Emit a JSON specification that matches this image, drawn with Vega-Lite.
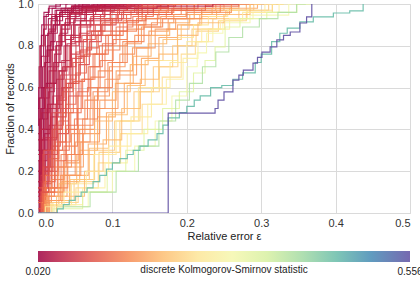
{
"$schema": "https://vega.github.io/schema/vega-lite/v6.json",
"width": 372, "height": 209,
"autosize": {"type": "none"},
"padding": {"left": 38, "top": 4, "right": 10, "bottom": 72},
"config": {"font": "Liberation Sans", "view": {"stroke": "#d8d8d8"},
  "axis": {"grid": true, "gridColor": "#dadada", "ticks": false, "domain": false, "labelColor": "#333", "titleColor": "#222", "labelFontSize": 11, "titleFontSize": 11, "titleFontWeight": "normal"}},
"data": {"values": [
{"s":1,"k":0.020,"x":0,"y":0.42},{"s":1,"k":0.020,"x":0.002,"y":0.6},{"s":1,"k":0.020,"x":0.004,"y":0.8},{"s":1,"k":0.020,"x":0.006,"y":0.9},{"s":1,"k":0.020,"x":0.01,"y":0.96},{"s":1,"k":0.020,"x":0.02,"y":0.99},{"s":1,"k":0.020,"x":0.04,"y":1},
{"s":2,"k":0.022,"x":0,"y":0.3},{"s":2,"k":0.022,"x":0.003,"y":0.55},{"s":2,"k":0.022,"x":0.006,"y":0.75},{"s":2,"k":0.022,"x":0.009,"y":0.88},{"s":2,"k":0.022,"x":0.013,"y":0.95},{"s":2,"k":0.022,"x":0.025,"y":0.98},{"s":2,"k":0.022,"x":0.05,"y":1},
{"s":3,"k":0.024,"x":0,"y":0.5},{"s":3,"k":0.024,"x":0.003,"y":0.7},{"s":3,"k":0.024,"x":0.006,"y":0.85},{"s":3,"k":0.024,"x":0.01,"y":0.94},{"s":3,"k":0.024,"x":0.018,"y":0.98},{"s":3,"k":0.024,"x":0.03,"y":1},
{"s":4,"k":0.025,"x":0,"y":0.2},{"s":4,"k":0.025,"x":0.004,"y":0.45},{"s":4,"k":0.025,"x":0.008,"y":0.7},{"s":4,"k":0.025,"x":0.012,"y":0.85},{"s":4,"k":0.025,"x":0.016,"y":0.93},{"s":4,"k":0.025,"x":0.03,"y":0.97},{"s":4,"k":0.025,"x":0.06,"y":0.99},{"s":4,"k":0.025,"x":0.09,"y":1},
{"s":5,"k":0.027,"x":0,"y":0},{"s":5,"k":0.027,"x":0.003,"y":0.25},{"s":5,"k":0.027,"x":0.007,"y":0.5},{"s":5,"k":0.027,"x":0.011,"y":0.72},{"s":5,"k":0.027,"x":0.015,"y":0.86},{"s":5,"k":0.027,"x":0.022,"y":0.94},{"s":5,"k":0.027,"x":0.04,"y":0.98},{"s":5,"k":0.027,"x":0.07,"y":1},
{"s":6,"k":0.028,"x":0,"y":0.1},{"s":6,"k":0.028,"x":0.005,"y":0.35},{"s":6,"k":0.028,"x":0.01,"y":0.6},{"s":6,"k":0.028,"x":0.015,"y":0.8},{"s":6,"k":0.028,"x":0.02,"y":0.92},{"s":6,"k":0.028,"x":0.03,"y":0.97},{"s":6,"k":0.028,"x":0.07,"y":1},
{"s":7,"k":0.030,"x":0,"y":0.05},{"s":7,"k":0.030,"x":0.006,"y":0.3},{"s":7,"k":0.030,"x":0.012,"y":0.55},{"s":7,"k":0.030,"x":0.018,"y":0.78},{"s":7,"k":0.030,"x":0.024,"y":0.9},{"s":7,"k":0.030,"x":0.035,"y":0.96},{"s":7,"k":0.030,"x":0.06,"y":0.985},{"s":7,"k":0.030,"x":0.1,"y":1},
{"s":8,"k":0.032,"x":0,"y":0.15},{"s":8,"k":0.032,"x":0.008,"y":0.4},{"s":8,"k":0.032,"x":0.014,"y":0.62},{"s":8,"k":0.032,"x":0.02,"y":0.82},{"s":8,"k":0.032,"x":0.026,"y":0.92},{"s":8,"k":0.032,"x":0.04,"y":0.97},{"s":8,"k":0.032,"x":0.08,"y":1},
{"s":9,"k":0.033,"x":0,"y":0.38},{"s":9,"k":0.033,"x":0.008,"y":0.6},{"s":9,"k":0.033,"x":0.016,"y":0.78},{"s":9,"k":0.033,"x":0.024,"y":0.9},{"s":9,"k":0.033,"x":0.034,"y":0.96},{"s":9,"k":0.033,"x":0.06,"y":0.99},{"s":9,"k":0.033,"x":0.12,"y":1},
{"s":10,"k":0.035,"x":0,"y":0},{"s":10,"k":0.035,"x":0.004,"y":0.2},{"s":10,"k":0.035,"x":0.01,"y":0.45},{"s":10,"k":0.035,"x":0.016,"y":0.7},{"s":10,"k":0.035,"x":0.022,"y":0.86},{"s":10,"k":0.035,"x":0.03,"y":0.94},{"s":10,"k":0.035,"x":0.05,"y":0.98},{"s":10,"k":0.035,"x":0.12,"y":1},
{"s":11,"k":0.036,"x":0,"y":0},{"s":11,"k":0.036,"x":0.007,"y":0.18},{"s":11,"k":0.036,"x":0.014,"y":0.4},{"s":11,"k":0.036,"x":0.021,"y":0.62},{"s":11,"k":0.036,"x":0.028,"y":0.8},{"s":11,"k":0.036,"x":0.036,"y":0.9},{"s":11,"k":0.036,"x":0.048,"y":0.96},{"s":11,"k":0.036,"x":0.07,"y":0.985},{"s":11,"k":0.036,"x":0.11,"y":1},
{"s":12,"k":0.038,"x":0,"y":0.25},{"s":12,"k":0.038,"x":0.007,"y":0.5},{"s":12,"k":0.038,"x":0.013,"y":0.72},{"s":12,"k":0.038,"x":0.019,"y":0.87},{"s":12,"k":0.038,"x":0.028,"y":0.95},{"s":12,"k":0.038,"x":0.045,"y":0.98},{"s":12,"k":0.038,"x":0.1,"y":1},
{"s":13,"k":0.040,"x":0,"y":0},{"s":13,"k":0.040,"x":0.006,"y":0.15},{"s":13,"k":0.040,"x":0.012,"y":0.38},{"s":13,"k":0.040,"x":0.02,"y":0.62},{"s":13,"k":0.040,"x":0.028,"y":0.8},{"s":13,"k":0.040,"x":0.036,"y":0.9},{"s":13,"k":0.040,"x":0.05,"y":0.96},{"s":13,"k":0.040,"x":0.08,"y":0.99},{"s":13,"k":0.040,"x":0.14,"y":1},
{"s":14,"k":0.041,"x":0,"y":0.1},{"s":14,"k":0.041,"x":0.009,"y":0.3},{"s":14,"k":0.041,"x":0.017,"y":0.52},{"s":14,"k":0.041,"x":0.025,"y":0.72},{"s":14,"k":0.041,"x":0.034,"y":0.86},{"s":14,"k":0.041,"x":0.046,"y":0.94},{"s":14,"k":0.041,"x":0.065,"y":0.975},{"s":14,"k":0.041,"x":0.1,"y":0.99},{"s":14,"k":0.041,"x":0.18,"y":1},
{"s":15,"k":0.042,"x":0,"y":0.35},{"s":15,"k":0.042,"x":0.005,"y":0.55},{"s":15,"k":0.042,"x":0.011,"y":0.75},{"s":15,"k":0.042,"x":0.018,"y":0.88},{"s":15,"k":0.042,"x":0.03,"y":0.95},{"s":15,"k":0.042,"x":0.06,"y":0.99},{"s":15,"k":0.042,"x":0.11,"y":1},
{"s":16,"k":0.044,"x":0,"y":0},{"s":16,"k":0.044,"x":0.012,"y":0.22},{"s":16,"k":0.044,"x":0.022,"y":0.46},{"s":16,"k":0.044,"x":0.032,"y":0.68},{"s":16,"k":0.044,"x":0.042,"y":0.83},{"s":16,"k":0.044,"x":0.054,"y":0.92},{"s":16,"k":0.044,"x":0.072,"y":0.965},{"s":16,"k":0.044,"x":0.1,"y":0.985},{"s":16,"k":0.044,"x":0.15,"y":1},
{"s":17,"k":0.045,"x":0,"y":0.05},{"s":17,"k":0.045,"x":0.008,"y":0.25},{"s":17,"k":0.045,"x":0.016,"y":0.5},{"s":17,"k":0.045,"x":0.024,"y":0.7},{"s":17,"k":0.045,"x":0.032,"y":0.85},{"s":17,"k":0.045,"x":0.042,"y":0.93},{"s":17,"k":0.045,"x":0.06,"y":0.97},{"s":17,"k":0.045,"x":0.1,"y":0.99},{"s":17,"k":0.045,"x":0.16,"y":1},
{"s":18,"k":0.047,"x":0,"y":0.28},{"s":18,"k":0.047,"x":0.01,"y":0.48},{"s":18,"k":0.047,"x":0.02,"y":0.68},{"s":18,"k":0.047,"x":0.03,"y":0.82},{"s":18,"k":0.047,"x":0.042,"y":0.91},{"s":18,"k":0.047,"x":0.058,"y":0.96},{"s":18,"k":0.047,"x":0.09,"y":0.99},{"s":18,"k":0.047,"x":0.14,"y":1},
{"s":19,"k":0.048,"x":0,"y":0.12},{"s":19,"k":0.048,"x":0.01,"y":0.35},{"s":19,"k":0.048,"x":0.018,"y":0.58},{"s":19,"k":0.048,"x":0.026,"y":0.76},{"s":19,"k":0.048,"x":0.036,"y":0.88},{"s":19,"k":0.048,"x":0.05,"y":0.95},{"s":19,"k":0.048,"x":0.08,"y":0.985},{"s":19,"k":0.048,"x":0.13,"y":1},
{"s":20,"k":0.050,"x":0,"y":0},{"s":20,"k":0.050,"x":0.01,"y":0.2},{"s":20,"k":0.050,"x":0.02,"y":0.42},{"s":20,"k":0.050,"x":0.03,"y":0.64},{"s":20,"k":0.050,"x":0.04,"y":0.8},{"s":20,"k":0.050,"x":0.05,"y":0.9},{"s":20,"k":0.050,"x":0.065,"y":0.95},{"s":20,"k":0.050,"x":0.09,"y":0.98},{"s":20,"k":0.050,"x":0.15,"y":1},
{"s":21,"k":0.052,"x":0,"y":0},{"s":21,"k":0.052,"x":0.005,"y":0.1},{"s":21,"k":0.052,"x":0.014,"y":0.28},{"s":21,"k":0.052,"x":0.024,"y":0.5},{"s":21,"k":0.052,"x":0.034,"y":0.68},{"s":21,"k":0.052,"x":0.044,"y":0.81},{"s":21,"k":0.052,"x":0.056,"y":0.9},{"s":21,"k":0.052,"x":0.074,"y":0.95},{"s":21,"k":0.052,"x":0.1,"y":0.98},{"s":21,"k":0.052,"x":0.17,"y":1},
{"s":22,"k":0.053,"x":0,"y":0.08},{"s":22,"k":0.053,"x":0.012,"y":0.3},{"s":22,"k":0.053,"x":0.022,"y":0.52},{"s":22,"k":0.053,"x":0.032,"y":0.72},{"s":22,"k":0.053,"x":0.042,"y":0.85},{"s":22,"k":0.053,"x":0.055,"y":0.93},{"s":22,"k":0.053,"x":0.075,"y":0.97},{"s":22,"k":0.053,"x":0.12,"y":1},
{"s":23,"k":0.055,"x":0,"y":0.15},{"s":23,"k":0.055,"x":0.014,"y":0.36},{"s":23,"k":0.055,"x":0.026,"y":0.56},{"s":23,"k":0.055,"x":0.038,"y":0.73},{"s":23,"k":0.055,"x":0.05,"y":0.85},{"s":23,"k":0.055,"x":0.064,"y":0.92},{"s":23,"k":0.055,"x":0.085,"y":0.965},{"s":23,"k":0.055,"x":0.12,"y":0.99},{"s":23,"k":0.055,"x":0.16,"y":1},
{"s":24,"k":0.056,"x":0,"y":0.2},{"s":24,"k":0.056,"x":0.006,"y":0.4},{"s":24,"k":0.056,"x":0.014,"y":0.6},{"s":24,"k":0.056,"x":0.024,"y":0.78},{"s":24,"k":0.056,"x":0.036,"y":0.9},{"s":24,"k":0.056,"x":0.05,"y":0.955},{"s":24,"k":0.056,"x":0.07,"y":0.98},{"s":24,"k":0.056,"x":0.1,"y":1},
{"s":25,"k":0.058,"x":0,"y":0},{"s":25,"k":0.058,"x":0.008,"y":0.12},{"s":25,"k":0.058,"x":0.018,"y":0.3},{"s":25,"k":0.058,"x":0.028,"y":0.52},{"s":25,"k":0.058,"x":0.038,"y":0.7},{"s":25,"k":0.058,"x":0.05,"y":0.84},{"s":25,"k":0.058,"x":0.064,"y":0.92},{"s":25,"k":0.058,"x":0.085,"y":0.97},{"s":25,"k":0.058,"x":0.13,"y":1},
{"s":26,"k":0.065,"x":0,"y":0},{"s":26,"k":0.065,"x":0.01,"y":0.15},{"s":26,"k":0.065,"x":0.02,"y":0.35},{"s":26,"k":0.065,"x":0.03,"y":0.55},{"s":26,"k":0.065,"x":0.04,"y":0.7},{"s":26,"k":0.065,"x":0.05,"y":0.82},{"s":26,"k":0.065,"x":0.065,"y":0.9},{"s":26,"k":0.065,"x":0.085,"y":0.95},{"s":26,"k":0.065,"x":0.11,"y":0.98},{"s":26,"k":0.065,"x":0.16,"y":1},
{"s":27,"k":0.068,"x":0,"y":0},{"s":27,"k":0.068,"x":0.014,"y":0.2},{"s":27,"k":0.068,"x":0.026,"y":0.4},{"s":27,"k":0.068,"x":0.038,"y":0.6},{"s":27,"k":0.068,"x":0.05,"y":0.76},{"s":27,"k":0.068,"x":0.062,"y":0.86},{"s":27,"k":0.068,"x":0.078,"y":0.93},{"s":27,"k":0.068,"x":0.1,"y":0.97},{"s":27,"k":0.068,"x":0.14,"y":0.99},{"s":27,"k":0.068,"x":0.19,"y":1},
{"s":28,"k":0.072,"x":0,"y":0.06},{"s":28,"k":0.072,"x":0.008,"y":0.18},{"s":28,"k":0.072,"x":0.02,"y":0.36},{"s":28,"k":0.072,"x":0.032,"y":0.54},{"s":28,"k":0.072,"x":0.044,"y":0.7},{"s":28,"k":0.072,"x":0.058,"y":0.82},{"s":28,"k":0.072,"x":0.074,"y":0.9},{"s":28,"k":0.072,"x":0.094,"y":0.95},{"s":28,"k":0.072,"x":0.125,"y":0.98},{"s":28,"k":0.072,"x":0.17,"y":1},
{"s":29,"k":0.075,"x":0,"y":0.1},{"s":29,"k":0.075,"x":0.012,"y":0.28},{"s":29,"k":0.075,"x":0.024,"y":0.48},{"s":29,"k":0.075,"x":0.036,"y":0.66},{"s":29,"k":0.075,"x":0.048,"y":0.8},{"s":29,"k":0.075,"x":0.062,"y":0.89},{"s":29,"k":0.075,"x":0.08,"y":0.94},{"s":29,"k":0.075,"x":0.1,"y":0.97},{"s":29,"k":0.075,"x":0.14,"y":1},
{"s":30,"k":0.080,"x":0,"y":0},{"s":30,"k":0.080,"x":0.02,"y":0.2},{"s":30,"k":0.080,"x":0.034,"y":0.38},{"s":30,"k":0.080,"x":0.048,"y":0.56},{"s":30,"k":0.080,"x":0.062,"y":0.71},{"s":30,"k":0.080,"x":0.076,"y":0.82},{"s":30,"k":0.080,"x":0.094,"y":0.9},{"s":30,"k":0.080,"x":0.116,"y":0.95},{"s":30,"k":0.080,"x":0.15,"y":0.98},{"s":30,"k":0.080,"x":0.2,"y":1},
{"s":31,"k":0.085,"x":0,"y":0},{"s":31,"k":0.085,"x":0.006,"y":0.08},{"s":31,"k":0.085,"x":0.016,"y":0.22},{"s":31,"k":0.085,"x":0.028,"y":0.42},{"s":31,"k":0.085,"x":0.04,"y":0.6},{"s":31,"k":0.085,"x":0.052,"y":0.74},{"s":31,"k":0.085,"x":0.066,"y":0.85},{"s":31,"k":0.085,"x":0.084,"y":0.92},{"s":31,"k":0.085,"x":0.11,"y":0.96},{"s":31,"k":0.085,"x":0.15,"y":0.985},{"s":31,"k":0.085,"x":0.2,"y":1},
{"s":32,"k":0.090,"x":0,"y":0},{"s":32,"k":0.090,"x":0.012,"y":0.14},{"s":32,"k":0.090,"x":0.024,"y":0.32},{"s":32,"k":0.090,"x":0.036,"y":0.5},{"s":32,"k":0.090,"x":0.05,"y":0.66},{"s":32,"k":0.090,"x":0.064,"y":0.78},{"s":32,"k":0.090,"x":0.08,"y":0.87},{"s":32,"k":0.090,"x":0.1,"y":0.93},{"s":32,"k":0.090,"x":0.13,"y":0.97},{"s":32,"k":0.090,"x":0.18,"y":1},
{"s":33,"k":0.095,"x":0,"y":0.05},{"s":33,"k":0.095,"x":0.014,"y":0.22},{"s":33,"k":0.095,"x":0.026,"y":0.4},{"s":33,"k":0.095,"x":0.04,"y":0.58},{"s":33,"k":0.095,"x":0.054,"y":0.72},{"s":33,"k":0.095,"x":0.068,"y":0.83},{"s":33,"k":0.095,"x":0.086,"y":0.9},{"s":33,"k":0.095,"x":0.11,"y":0.95},{"s":33,"k":0.095,"x":0.17,"y":1},
{"s":34,"k":0.100,"x":0,"y":0.12},{"s":34,"k":0.100,"x":0.016,"y":0.3},{"s":34,"k":0.100,"x":0.03,"y":0.48},{"s":34,"k":0.100,"x":0.044,"y":0.64},{"s":34,"k":0.100,"x":0.058,"y":0.77},{"s":34,"k":0.100,"x":0.074,"y":0.87},{"s":34,"k":0.100,"x":0.094,"y":0.93},{"s":34,"k":0.100,"x":0.12,"y":0.97},{"s":34,"k":0.100,"x":0.16,"y":0.99},{"s":34,"k":0.100,"x":0.21,"y":1},
{"s":35,"k":0.105,"x":0,"y":0},{"s":35,"k":0.105,"x":0.01,"y":0.1},{"s":35,"k":0.105,"x":0.022,"y":0.26},{"s":35,"k":0.105,"x":0.034,"y":0.44},{"s":35,"k":0.105,"x":0.048,"y":0.62},{"s":35,"k":0.105,"x":0.062,"y":0.75},{"s":35,"k":0.105,"x":0.078,"y":0.85},{"s":35,"k":0.105,"x":0.096,"y":0.91},{"s":35,"k":0.105,"x":0.12,"y":0.95},{"s":35,"k":0.105,"x":0.15,"y":0.98},{"s":35,"k":0.105,"x":0.2,"y":1},
{"s":36,"k":0.110,"x":0,"y":0},{"s":36,"k":0.110,"x":0.016,"y":0.15},{"s":36,"k":0.110,"x":0.03,"y":0.34},{"s":36,"k":0.110,"x":0.044,"y":0.52},{"s":36,"k":0.110,"x":0.058,"y":0.67},{"s":36,"k":0.110,"x":0.072,"y":0.79},{"s":36,"k":0.110,"x":0.09,"y":0.87},{"s":36,"k":0.110,"x":0.11,"y":0.93},{"s":36,"k":0.110,"x":0.14,"y":0.97},{"s":36,"k":0.110,"x":0.19,"y":1},
{"s":37,"k":0.115,"x":0,"y":0.02},{"s":37,"k":0.115,"x":0.012,"y":0.12},{"s":37,"k":0.115,"x":0.026,"y":0.3},{"s":37,"k":0.115,"x":0.04,"y":0.48},{"s":37,"k":0.115,"x":0.055,"y":0.63},{"s":37,"k":0.115,"x":0.07,"y":0.76},{"s":37,"k":0.115,"x":0.088,"y":0.85},{"s":37,"k":0.115,"x":0.108,"y":0.91},{"s":37,"k":0.115,"x":0.13,"y":0.95},{"s":37,"k":0.115,"x":0.165,"y":0.98},{"s":37,"k":0.115,"x":0.22,"y":1},
{"s":38,"k":0.120,"x":0,"y":0},{"s":38,"k":0.120,"x":0.018,"y":0.12},{"s":38,"k":0.120,"x":0.034,"y":0.3},{"s":38,"k":0.120,"x":0.05,"y":0.48},{"s":38,"k":0.120,"x":0.066,"y":0.64},{"s":38,"k":0.120,"x":0.082,"y":0.76},{"s":38,"k":0.120,"x":0.1,"y":0.85},{"s":38,"k":0.120,"x":0.12,"y":0.91},{"s":38,"k":0.120,"x":0.15,"y":0.96},{"s":38,"k":0.120,"x":0.2,"y":1},
{"s":39,"k":0.125,"x":0,"y":0},{"s":39,"k":0.125,"x":0.014,"y":0.08},{"s":39,"k":0.125,"x":0.03,"y":0.22},{"s":39,"k":0.125,"x":0.046,"y":0.4},{"s":39,"k":0.125,"x":0.062,"y":0.56},{"s":39,"k":0.125,"x":0.078,"y":0.7},{"s":39,"k":0.125,"x":0.095,"y":0.81},{"s":39,"k":0.125,"x":0.115,"y":0.89},{"s":39,"k":0.125,"x":0.14,"y":0.94},{"s":39,"k":0.125,"x":0.17,"y":0.97},{"s":39,"k":0.125,"x":0.23,"y":1},
{"s":40,"k":0.130,"x":0,"y":0.05},{"s":40,"k":0.130,"x":0.02,"y":0.18},{"s":40,"k":0.130,"x":0.036,"y":0.34},{"s":40,"k":0.130,"x":0.052,"y":0.5},{"s":40,"k":0.130,"x":0.068,"y":0.64},{"s":40,"k":0.130,"x":0.085,"y":0.76},{"s":40,"k":0.130,"x":0.104,"y":0.85},{"s":40,"k":0.130,"x":0.125,"y":0.92},{"s":40,"k":0.130,"x":0.155,"y":0.96},{"s":40,"k":0.130,"x":0.21,"y":1},
{"s":41,"k":0.135,"x":0,"y":0},{"s":41,"k":0.135,"x":0.022,"y":0.12},{"s":41,"k":0.135,"x":0.04,"y":0.28},{"s":41,"k":0.135,"x":0.058,"y":0.45},{"s":41,"k":0.135,"x":0.075,"y":0.6},{"s":41,"k":0.135,"x":0.092,"y":0.73},{"s":41,"k":0.135,"x":0.11,"y":0.83},{"s":41,"k":0.135,"x":0.13,"y":0.9},{"s":41,"k":0.135,"x":0.16,"y":0.95},{"s":41,"k":0.135,"x":0.2,"y":0.98},{"s":41,"k":0.135,"x":0.25,"y":1},
{"s":42,"k":0.140,"x":0,"y":0},{"s":42,"k":0.140,"x":0.01,"y":0.05},{"s":42,"k":0.140,"x":0.026,"y":0.16},{"s":42,"k":0.140,"x":0.044,"y":0.32},{"s":42,"k":0.140,"x":0.062,"y":0.5},{"s":42,"k":0.140,"x":0.08,"y":0.65},{"s":42,"k":0.140,"x":0.1,"y":0.78},{"s":42,"k":0.140,"x":0.12,"y":0.87},{"s":42,"k":0.140,"x":0.145,"y":0.93},{"s":42,"k":0.140,"x":0.18,"y":0.97},{"s":42,"k":0.140,"x":0.24,"y":1},
{"s":43,"k":0.145,"x":0,"y":0},{"s":43,"k":0.145,"x":0.024,"y":0.1},{"s":43,"k":0.145,"x":0.044,"y":0.25},{"s":43,"k":0.145,"x":0.064,"y":0.42},{"s":43,"k":0.145,"x":0.084,"y":0.58},{"s":43,"k":0.145,"x":0.104,"y":0.72},{"s":43,"k":0.145,"x":0.124,"y":0.82},{"s":43,"k":0.145,"x":0.146,"y":0.9},{"s":43,"k":0.145,"x":0.175,"y":0.95},{"s":43,"k":0.145,"x":0.21,"y":0.98},{"s":43,"k":0.145,"x":0.26,"y":1},
{"s":44,"k":0.150,"x":0,"y":0},{"s":44,"k":0.150,"x":0.018,"y":0.08},{"s":44,"k":0.150,"x":0.036,"y":0.22},{"s":44,"k":0.150,"x":0.054,"y":0.38},{"s":44,"k":0.150,"x":0.072,"y":0.54},{"s":44,"k":0.150,"x":0.09,"y":0.68},{"s":44,"k":0.150,"x":0.11,"y":0.8},{"s":44,"k":0.150,"x":0.13,"y":0.88},{"s":44,"k":0.150,"x":0.155,"y":0.93},{"s":44,"k":0.150,"x":0.19,"y":0.97},{"s":44,"k":0.150,"x":0.23,"y":1},
{"s":45,"k":0.155,"x":0,"y":0},{"s":45,"k":0.155,"x":0.02,"y":0.06},{"s":45,"k":0.155,"x":0.04,"y":0.18},{"s":45,"k":0.155,"x":0.06,"y":0.34},{"s":45,"k":0.155,"x":0.08,"y":0.5},{"s":45,"k":0.155,"x":0.1,"y":0.64},{"s":45,"k":0.155,"x":0.12,"y":0.76},{"s":45,"k":0.155,"x":0.14,"y":0.85},{"s":45,"k":0.155,"x":0.165,"y":0.91},{"s":45,"k":0.155,"x":0.2,"y":0.95},{"s":45,"k":0.155,"x":0.24,"y":0.98},{"s":45,"k":0.155,"x":0.28,"y":1},
{"s":46,"k":0.160,"x":0,"y":0},{"s":46,"k":0.160,"x":0.026,"y":0.1},{"s":46,"k":0.160,"x":0.046,"y":0.24},{"s":46,"k":0.160,"x":0.066,"y":0.4},{"s":46,"k":0.160,"x":0.086,"y":0.56},{"s":46,"k":0.160,"x":0.106,"y":0.7},{"s":46,"k":0.160,"x":0.128,"y":0.81},{"s":46,"k":0.160,"x":0.15,"y":0.89},{"s":46,"k":0.160,"x":0.18,"y":0.94},{"s":46,"k":0.160,"x":0.218,"y":0.97},{"s":46,"k":0.160,"x":0.26,"y":1},
{"s":47,"k":0.165,"x":0,"y":0},{"s":47,"k":0.165,"x":0.028,"y":0.08},{"s":47,"k":0.165,"x":0.05,"y":0.22},{"s":47,"k":0.165,"x":0.072,"y":0.38},{"s":47,"k":0.165,"x":0.094,"y":0.54},{"s":47,"k":0.165,"x":0.116,"y":0.68},{"s":47,"k":0.165,"x":0.138,"y":0.79},{"s":47,"k":0.165,"x":0.16,"y":0.87},{"s":47,"k":0.165,"x":0.19,"y":0.93},{"s":47,"k":0.165,"x":0.23,"y":0.97},{"s":47,"k":0.165,"x":0.27,"y":1},
{"s":48,"k":0.175,"x":0,"y":0},{"s":48,"k":0.175,"x":0.03,"y":0.06},{"s":48,"k":0.175,"x":0.055,"y":0.18},{"s":48,"k":0.175,"x":0.08,"y":0.33},{"s":48,"k":0.175,"x":0.104,"y":0.48},{"s":48,"k":0.175,"x":0.128,"y":0.62},{"s":48,"k":0.175,"x":0.15,"y":0.74},{"s":48,"k":0.175,"x":0.175,"y":0.84},{"s":48,"k":0.175,"x":0.2,"y":0.9},{"s":48,"k":0.175,"x":0.235,"y":0.95},{"s":48,"k":0.175,"x":0.28,"y":0.98},{"s":48,"k":0.175,"x":0.31,"y":1},
{"s":49,"k":0.180,"x":0,"y":0},{"s":49,"k":0.180,"x":0.02,"y":0.04},{"s":49,"k":0.180,"x":0.044,"y":0.15},{"s":49,"k":0.180,"x":0.068,"y":0.3},{"s":49,"k":0.180,"x":0.092,"y":0.46},{"s":49,"k":0.180,"x":0.116,"y":0.62},{"s":49,"k":0.180,"x":0.14,"y":0.75},{"s":49,"k":0.180,"x":0.164,"y":0.85},{"s":49,"k":0.180,"x":0.19,"y":0.91},{"s":49,"k":0.180,"x":0.218,"y":0.95},{"s":49,"k":0.180,"x":0.25,"y":0.98},{"s":49,"k":0.180,"x":0.29,"y":1},
{"s":50,"k":0.190,"x":0,"y":0},{"s":50,"k":0.190,"x":0.016,"y":0.04},{"s":50,"k":0.190,"x":0.04,"y":0.14},{"s":50,"k":0.190,"x":0.064,"y":0.28},{"s":50,"k":0.190,"x":0.088,"y":0.44},{"s":50,"k":0.190,"x":0.112,"y":0.58},{"s":50,"k":0.190,"x":0.136,"y":0.71},{"s":50,"k":0.190,"x":0.16,"y":0.81},{"s":50,"k":0.190,"x":0.186,"y":0.88},{"s":50,"k":0.190,"x":0.22,"y":0.93},{"s":50,"k":0.190,"x":0.26,"y":0.97},{"s":50,"k":0.190,"x":0.3,"y":1},
{"s":51,"k":0.200,"x":0,"y":0},{"s":51,"k":0.200,"x":0.03,"y":0.05},{"s":51,"k":0.200,"x":0.056,"y":0.16},{"s":51,"k":0.200,"x":0.082,"y":0.31},{"s":51,"k":0.200,"x":0.108,"y":0.47},{"s":51,"k":0.200,"x":0.132,"y":0.61},{"s":51,"k":0.200,"x":0.156,"y":0.73},{"s":51,"k":0.200,"x":0.18,"y":0.83},{"s":51,"k":0.200,"x":0.205,"y":0.9},{"s":51,"k":0.200,"x":0.235,"y":0.94},{"s":51,"k":0.200,"x":0.27,"y":0.97},{"s":51,"k":0.200,"x":0.31,"y":1},
{"s":52,"k":0.210,"x":0,"y":0},{"s":52,"k":0.210,"x":0.035,"y":0.06},{"s":52,"k":0.210,"x":0.062,"y":0.16},{"s":52,"k":0.210,"x":0.09,"y":0.3},{"s":52,"k":0.210,"x":0.116,"y":0.44},{"s":52,"k":0.210,"x":0.142,"y":0.58},{"s":52,"k":0.210,"x":0.168,"y":0.7},{"s":52,"k":0.210,"x":0.194,"y":0.8},{"s":52,"k":0.210,"x":0.22,"y":0.88},{"s":52,"k":0.210,"x":0.25,"y":0.93},{"s":52,"k":0.210,"x":0.29,"y":0.97},{"s":52,"k":0.210,"x":0.33,"y":1},
{"s":53,"k":0.220,"x":0,"y":0},{"s":53,"k":0.220,"x":0.04,"y":0.05},{"s":53,"k":0.220,"x":0.068,"y":0.15},{"s":53,"k":0.220,"x":0.096,"y":0.29},{"s":53,"k":0.220,"x":0.124,"y":0.44},{"s":53,"k":0.220,"x":0.15,"y":0.58},{"s":53,"k":0.220,"x":0.176,"y":0.7},{"s":53,"k":0.220,"x":0.2,"y":0.8},{"s":53,"k":0.220,"x":0.225,"y":0.87},{"s":53,"k":0.220,"x":0.26,"y":0.92},{"s":53,"k":0.220,"x":0.3,"y":0.96},{"s":53,"k":0.220,"x":0.33,"y":1},
{"s":54,"k":0.230,"x":0,"y":0},{"s":54,"k":0.230,"x":0.036,"y":0.04},{"s":54,"k":0.230,"x":0.066,"y":0.12},{"s":54,"k":0.230,"x":0.096,"y":0.24},{"s":54,"k":0.230,"x":0.126,"y":0.38},{"s":54,"k":0.230,"x":0.154,"y":0.52},{"s":54,"k":0.230,"x":0.18,"y":0.65},{"s":54,"k":0.230,"x":0.205,"y":0.76},{"s":54,"k":0.230,"x":0.218,"y":0.82},{"s":54,"k":0.230,"x":0.24,"y":0.88},{"s":54,"k":0.230,"x":0.262,"y":0.93},{"s":54,"k":0.230,"x":0.3,"y":0.97},{"s":54,"k":0.230,"x":0.33,"y":1},
{"s":55,"k":0.250,"x":0,"y":0},{"s":55,"k":0.250,"x":0.03,"y":0.04},{"s":55,"k":0.250,"x":0.06,"y":0.14},{"s":55,"k":0.250,"x":0.09,"y":0.28},{"s":55,"k":0.250,"x":0.12,"y":0.44},{"s":55,"k":0.250,"x":0.15,"y":0.6},{"s":55,"k":0.250,"x":0.175,"y":0.73},{"s":55,"k":0.250,"x":0.2,"y":0.84},{"s":55,"k":0.250,"x":0.218,"y":0.9},{"s":55,"k":0.250,"x":0.24,"y":0.94},{"s":55,"k":0.250,"x":0.27,"y":0.97},{"s":55,"k":0.250,"x":0.3,"y":1},
{"s":56,"k":0.270,"x":0,"y":0},{"s":56,"k":0.270,"x":0.045,"y":0.04},{"s":56,"k":0.270,"x":0.075,"y":0.12},{"s":56,"k":0.270,"x":0.105,"y":0.24},{"s":56,"k":0.270,"x":0.135,"y":0.38},{"s":56,"k":0.270,"x":0.16,"y":0.52},{"s":56,"k":0.270,"x":0.185,"y":0.64},{"s":56,"k":0.270,"x":0.205,"y":0.74},{"s":56,"k":0.270,"x":0.225,"y":0.82},{"s":56,"k":0.270,"x":0.245,"y":0.88},{"s":56,"k":0.270,"x":0.27,"y":0.93},{"s":56,"k":0.270,"x":0.308,"y":0.96},{"s":56,"k":0.270,"x":0.34,"y":1},
{"s":57,"k":0.300,"x":0,"y":0},{"s":57,"k":0.300,"x":0.05,"y":0.03},{"s":57,"k":0.300,"x":0.085,"y":0.1},{"s":57,"k":0.300,"x":0.115,"y":0.2},{"s":57,"k":0.300,"x":0.145,"y":0.32},{"s":57,"k":0.300,"x":0.17,"y":0.44},{"s":57,"k":0.300,"x":0.19,"y":0.56},{"s":57,"k":0.300,"x":0.21,"y":0.7},{"s":57,"k":0.300,"x":0.218,"y":0.766},{"s":57,"k":0.300,"x":0.235,"y":0.86},{"s":57,"k":0.300,"x":0.262,"y":0.91},{"s":57,"k":0.300,"x":0.308,"y":0.947},{"s":57,"k":0.300,"x":0.366,"y":1},
{"s":58,"k":0.340,"x":0,"y":0},{"s":58,"k":0.340,"x":0.04,"y":0.02},{"s":58,"k":0.340,"x":0.08,"y":0.1},{"s":58,"k":0.340,"x":0.106,"y":0.2},{"s":58,"k":0.340,"x":0.13,"y":0.3},{"s":58,"k":0.340,"x":0.155,"y":0.4},{"s":58,"k":0.340,"x":0.18,"y":0.5},{"s":58,"k":0.340,"x":0.2,"y":0.58},{"s":58,"k":0.340,"x":0.218,"y":0.67},{"s":58,"k":0.340,"x":0.231,"y":0.73},{"s":58,"k":0.340,"x":0.245,"y":0.795},{"s":58,"k":0.340,"x":0.258,"y":0.89},{"s":58,"k":0.340,"x":0.285,"y":0.93},{"s":58,"k":0.340,"x":0.33,"y":0.96},{"s":58,"k":0.340,"x":0.366,"y":1},
{"s":59,"k":0.390,"x":0,"y":0},{"s":59,"k":0.390,"x":0.05,"y":0.03},{"s":59,"k":0.390,"x":0.09,"y":0.1},{"s":59,"k":0.390,"x":0.12,"y":0.2},{"s":59,"k":0.390,"x":0.15,"y":0.32},{"s":59,"k":0.390,"x":0.175,"y":0.44},{"s":59,"k":0.390,"x":0.195,"y":0.54},{"s":59,"k":0.390,"x":0.212,"y":0.62},{"s":59,"k":0.390,"x":0.23,"y":0.7},{"s":59,"k":0.390,"x":0.248,"y":0.77},{"s":59,"k":0.390,"x":0.265,"y":0.84},{"s":59,"k":0.390,"x":0.285,"y":0.89},{"s":59,"k":0.390,"x":0.31,"y":0.93},{"s":59,"k":0.390,"x":0.335,"y":0.96},{"s":59,"k":0.390,"x":0.36,"y":1},
{"s":62,"k":0.118,"x":0,"y":0},{"s":62,"k":0.118,"x":0.015,"y":0.1},{"s":62,"k":0.118,"x":0.03,"y":0.25},{"s":62,"k":0.118,"x":0.045,"y":0.42},{"s":62,"k":0.118,"x":0.06,"y":0.58},{"s":62,"k":0.118,"x":0.075,"y":0.7},{"s":62,"k":0.118,"x":0.09,"y":0.8},{"s":62,"k":0.118,"x":0.11,"y":0.87},{"s":62,"k":0.118,"x":0.13,"y":0.92},{"s":62,"k":0.118,"x":0.16,"y":0.95},{"s":62,"k":0.118,"x":0.2,"y":0.97},{"s":62,"k":0.118,"x":0.25,"y":0.99},{"s":62,"k":0.118,"x":0.29,"y":1},
{"s":63,"k":0.142,"x":0,"y":0},{"s":63,"k":0.142,"x":0.03,"y":0.12},{"s":63,"k":0.142,"x":0.05,"y":0.28},{"s":63,"k":0.142,"x":0.07,"y":0.45},{"s":63,"k":0.142,"x":0.09,"y":0.6},{"s":63,"k":0.142,"x":0.11,"y":0.72},{"s":63,"k":0.142,"x":0.13,"y":0.82},{"s":63,"k":0.142,"x":0.155,"y":0.89},{"s":63,"k":0.142,"x":0.18,"y":0.93},{"s":63,"k":0.142,"x":0.22,"y":0.96},{"s":63,"k":0.142,"x":0.27,"y":1},
{"s":64,"k":0.162,"x":0,"y":0},{"s":64,"k":0.162,"x":0.022,"y":0.06},{"s":64,"k":0.162,"x":0.045,"y":0.18},{"s":64,"k":0.162,"x":0.07,"y":0.34},{"s":64,"k":0.162,"x":0.095,"y":0.5},{"s":64,"k":0.162,"x":0.12,"y":0.66},{"s":64,"k":0.162,"x":0.145,"y":0.79},{"s":64,"k":0.162,"x":0.17,"y":0.88},{"s":64,"k":0.162,"x":0.2,"y":0.93},{"s":64,"k":0.162,"x":0.24,"y":0.96},{"s":64,"k":0.162,"x":0.28,"y":1},
{"s":65,"k":0.195,"x":0,"y":0},{"s":65,"k":0.195,"x":0.05,"y":0.08},{"s":65,"k":0.195,"x":0.075,"y":0.2},{"s":65,"k":0.195,"x":0.1,"y":0.35},{"s":65,"k":0.195,"x":0.125,"y":0.5},{"s":65,"k":0.195,"x":0.15,"y":0.64},{"s":65,"k":0.195,"x":0.175,"y":0.76},{"s":65,"k":0.195,"x":0.2,"y":0.85},{"s":65,"k":0.195,"x":0.23,"y":0.91},{"s":65,"k":0.195,"x":0.27,"y":0.95},{"s":65,"k":0.195,"x":0.3,"y":1},
{"s":66,"k":0.260,"x":0,"y":0},{"s":66,"k":0.260,"x":0.02,"y":0.03},{"s":66,"k":0.260,"x":0.05,"y":0.1},{"s":66,"k":0.260,"x":0.08,"y":0.2},{"s":66,"k":0.260,"x":0.11,"y":0.32},{"s":66,"k":0.260,"x":0.14,"y":0.46},{"s":66,"k":0.260,"x":0.165,"y":0.6},{"s":66,"k":0.260,"x":0.19,"y":0.72},{"s":66,"k":0.260,"x":0.21,"y":0.82},{"s":66,"k":0.260,"x":0.23,"y":0.88},{"s":66,"k":0.260,"x":0.26,"y":0.92},{"s":66,"k":0.260,"x":0.29,"y":0.96},{"s":66,"k":0.260,"x":0.32,"y":1},
{"s":67,"k":0.092,"x":0,"y":0},{"s":67,"k":0.092,"x":0.008,"y":0.1},{"s":67,"k":0.092,"x":0.02,"y":0.28},{"s":67,"k":0.092,"x":0.032,"y":0.46},{"s":67,"k":0.092,"x":0.044,"y":0.62},{"s":67,"k":0.092,"x":0.058,"y":0.75},{"s":67,"k":0.092,"x":0.074,"y":0.85},{"s":67,"k":0.092,"x":0.095,"y":0.92},{"s":67,"k":0.092,"x":0.13,"y":0.96},{"s":67,"k":0.092,"x":0.18,"y":0.98},{"s":67,"k":0.092,"x":0.25,"y":1},
{"s":68,"k":0.051,"x":0,"y":0.6},{"s":68,"k":0.051,"x":0.005,"y":0.8},{"s":68,"k":0.051,"x":0.012,"y":0.9},{"s":68,"k":0.051,"x":0.025,"y":0.95},{"s":68,"k":0.051,"x":0.06,"y":0.97},{"s":68,"k":0.051,"x":0.12,"y":0.98},{"s":68,"k":0.051,"x":0.2,"y":0.99},{"s":68,"k":0.051,"x":0.27,"y":1},
{"s":60,"k":0.450,"x":0,"y":0},{"s":60,"k":0.450,"x":0.026,"y":0.02},{"s":60,"k":0.450,"x":0.034,"y":0.04},{"s":60,"k":0.450,"x":0.042,"y":0.06},{"s":60,"k":0.450,"x":0.05,"y":0.08},{"s":60,"k":0.450,"x":0.058,"y":0.1},{"s":60,"k":0.450,"x":0.066,"y":0.12},{"s":60,"k":0.450,"x":0.074,"y":0.15},{"s":60,"k":0.450,"x":0.083,"y":0.18},{"s":60,"k":0.450,"x":0.092,"y":0.21},{"s":60,"k":0.450,"x":0.1,"y":0.24},{"s":60,"k":0.450,"x":0.11,"y":0.26},{"s":60,"k":0.450,"x":0.12,"y":0.28},{"s":60,"k":0.450,"x":0.128,"y":0.3},{"s":60,"k":0.450,"x":0.137,"y":0.32},{"s":60,"k":0.450,"x":0.148,"y":0.35},{"s":60,"k":0.450,"x":0.16,"y":0.38},{"s":60,"k":0.450,"x":0.168,"y":0.42},{"s":60,"k":0.450,"x":0.175,"y":0.455},{"s":60,"k":0.450,"x":0.19,"y":0.48},{"s":60,"k":0.450,"x":0.2,"y":0.51},{"s":60,"k":0.450,"x":0.21,"y":0.54},{"s":60,"k":0.450,"x":0.218,"y":0.56},{"s":60,"k":0.450,"x":0.232,"y":0.6},{"s":60,"k":0.450,"x":0.247,"y":0.61},{"s":60,"k":0.450,"x":0.262,"y":0.64},{"s":60,"k":0.450,"x":0.275,"y":0.67},{"s":60,"k":0.450,"x":0.292,"y":0.72},{"s":60,"k":0.450,"x":0.3,"y":0.76},{"s":60,"k":0.450,"x":0.314,"y":0.82},{"s":60,"k":0.450,"x":0.325,"y":0.86},{"s":60,"k":0.450,"x":0.335,"y":0.885},{"s":60,"k":0.450,"x":0.352,"y":0.914},{"s":60,"k":0.450,"x":0.37,"y":0.938},{"s":60,"k":0.450,"x":0.397,"y":0.957},{"s":60,"k":0.450,"x":0.419,"y":0.967},{"s":60,"k":0.450,"x":0.437,"y":1},
{"s":61,"k":0.556,"x":0,"y":0},{"s":61,"k":0.556,"x":0.175,"y":0.478},{"s":61,"k":0.556,"x":0.238,"y":0.5},{"s":61,"k":0.556,"x":0.242,"y":0.54},{"s":61,"k":0.556,"x":0.25,"y":0.58},{"s":61,"k":0.556,"x":0.262,"y":0.636},{"s":61,"k":0.556,"x":0.27,"y":0.66},{"s":61,"k":0.556,"x":0.276,"y":0.684},{"s":61,"k":0.556,"x":0.289,"y":0.717},{"s":61,"k":0.556,"x":0.295,"y":0.745},{"s":61,"k":0.556,"x":0.301,"y":0.77},{"s":61,"k":0.556,"x":0.312,"y":0.795},{"s":61,"k":0.556,"x":0.321,"y":0.828},{"s":61,"k":0.556,"x":0.33,"y":0.85},{"s":61,"k":0.556,"x":0.339,"y":0.866},{"s":61,"k":0.556,"x":0.352,"y":0.909},{"s":61,"k":0.556,"x":0.361,"y":0.938},{"s":61,"k":0.556,"x":0.368,"y":1}
]},
"encoding": {
  "x": {"field": "x", "type": "quantitative", "scale": {"domain": [0, 0.5], "nice": false},
        "axis": {"values": [0, 0.1, 0.2, 0.3, 0.4, 0.5], "format": ".1f", "title": "Relative error ε", "labelPadding": 4, "titlePadding": 2}},
  "y": {"field": "y", "type": "quantitative", "scale": {"domain": [0, 1], "nice": false},
        "axis": {"values": [0, 0.2, 0.4, 0.6, 0.8, 1], "format": ".1f", "title": "Fraction of records", "labelPadding": 5, "titlePadding": 2}},
  "color": {"field": "k", "type": "quantitative", "scale": {"scheme": "spectral", "domain": [0.02, 0.556]},
        "legend": {"orient": "none", "legendX": 0, "legendY": 247, "direction": "horizontal", "gradientLength": 372, "gradientThickness": 11, "gradientStrokeWidth": 0, "values": [0.02001, 0.55599], "format": ".3f", "labelFontSize": 10, "labelOffset": 5, "labelColor": "#222", "labelOverlap": false, "title": "discrete Kolmogorov-Smirnov statistic", "titleOrient": "bottom", "titleAnchor": "middle", "titleFontSize": 10, "titleFontWeight": "normal", "titleColor": "#222", "titlePadding": -12}},
  "detail": {"field": "s", "type": "nominal"}
},
"layer": [
  {"transform": [{"filter": "datum.s < 60 || datum.s > 61"}],
   "mark": {"type": "line", "interpolate": "step", "strokeWidth": 1.1, "opacity": 0.85, "clip": true}},
  {"transform": [{"filter": "datum.s == 60 || datum.s == 61"}],
   "mark": {"type": "line", "interpolate": "step-after", "strokeWidth": 1.2, "opacity": 0.9, "clip": true}}
]
}
